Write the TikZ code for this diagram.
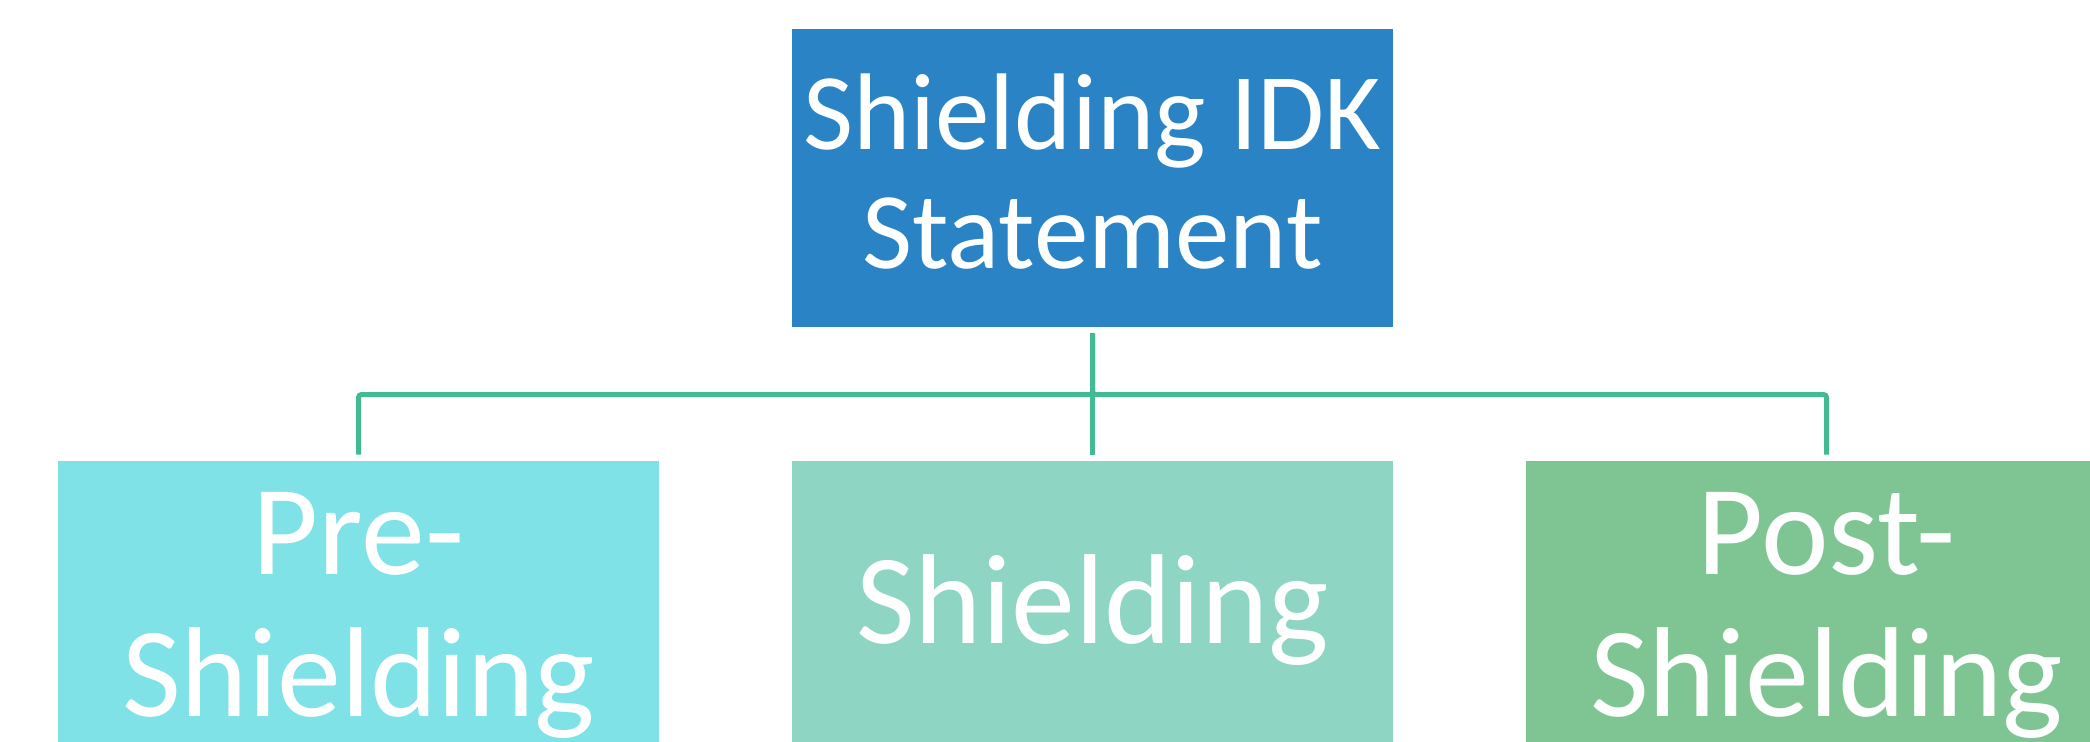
\documentclass[tikz,border=0pt]{standalone}
\usepackage{fontspec}
\setmainfont{Carlito}
\definecolor{rootblue}{HTML}{2983C5}
\definecolor{precyan}{HTML}{7EE2E7}
\definecolor{midteal}{HTML}{8ED6C3}
\definecolor{postgreen}{HTML}{7FC594}
\definecolor{linkgreen}{HTML}{44BA94}
\begin{document}
\begin{tikzpicture}[x=0.5pt,y=-0.5pt,
  box/.style={rectangle, inner sep=0pt, minimum width=300.5pt, minimum height=149pt,
              text=white, align=center},
  rootbox/.style={box, fill=rootblue, font=\fontsize{54.5pt}{59.5pt}\selectfont},
  leafbox/.style={box, font=\fontsize{64pt}{71pt}\selectfont},
  link/.style={draw=linkgreen, line width=2.5pt, rounded corners=1.5pt,
               shorten <=3pt, shorten >=3pt}]
  \useasboundingbox (0,0) rectangle (2090,741);
  \clip (0,0) rectangle (2090,741);

  % root of the hierarchy
  \node[rootbox] (root) at (1092.5,178) {Shielding IDK\\Statement\rule[-7pt]{0pt}{1pt}};

  % three phases
  \node[leafbox, fill=precyan]   (pre)  at (358.5,610)  {\rule{0pt}{46pt}Pre-\\Shielding};
  \node[leafbox, fill=midteal]   (mid)  at (1092.5,610) {Shielding};
  \node[leafbox, fill=postgreen] (post) at (1826.5,610) {\rule{0pt}{46pt}Post-\\Shielding};

  % branch level of the connectors
  \coordinate (bar) at (1092.5,394.5);

  \draw[link] (root.south) -- (root.south |- bar) -| (pre.north);
  \draw[link] (root.south) -- (root.south |- bar) -| (post.north);
  \draw[link] (root.south) -- (mid.north);
\end{tikzpicture}
\end{document}
